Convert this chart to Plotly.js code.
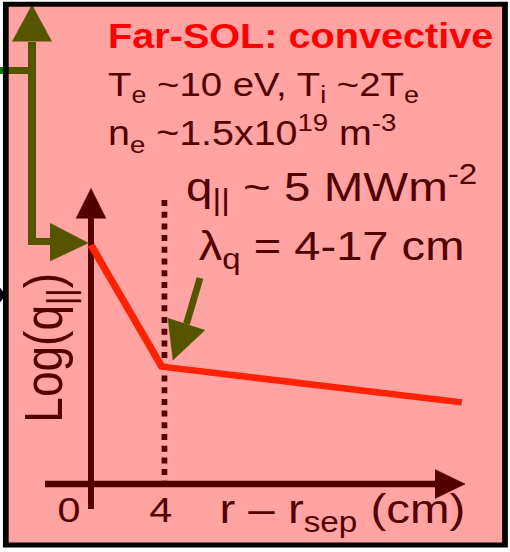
<!DOCTYPE html>
<html>
<head>
<meta charset="utf-8">
<script src="https://cdn.plot.ly/plotly-3.0.1.min.js"></script>
<style>
  html, body { margin: 0; padding: 0; background: #ffffff; overflow: hidden; }
  #wrap { width: 510px; height: 552px; overflow: hidden; }
  #chart { width: 444px; height: 552px; transform: scaleX(1.148649); transform-origin: 0 0; }
</style>
</head>
<body>
<div id="wrap"><div id="chart"></div></div>
<script>
// ---- Data (schematic units: x = r - r_sep in cm, y = Log(q||) arbitrary units) ----
const profileX = [0, 3.93, 20.6];
const profileY = [11.95, 5.87, 4.08];

const tickValues = [0, 4];
const tickLabels = ['0', '4'];

// axis arrows
const yAxisX = [0, 0];
const yAxisY = [-1.25, 13.3];
const yHeadX = [-0.833, 0, 0.833];
const yHeadY = [13.28, 14.78, 13.28];
const xAxisX = [-2.556, 19.2];
const xAxisY = [0, 0];
const xHeadX = [19.11, 20.78, 19.11];
const xHeadY = [0.73, 0, -0.73];

// 4 cm dotted marker
const markX = [4.08, 4.08];
const markY = [14.2, 0];

// olive pointer arrows
const pointer1X = [-3.278, -3.278, -2.222];
const pointer1Y = [22.1, 12.125, 12.125];
const pointer1UpHeadX = [-4.372, -3.278, -2.183];
const pointer1UpHeadY = [22.12, 23.95, 22.12];
const pointer1RightHeadX = [-2.278, -0.156, -2.278];
const pointer1RightHeadY = [13.04, 12.05, 11.15];
const stubX = [-4.78, -3.111];
const stubY = [20.675, 20.675];
const greenStubX = [-5.056, -4.78];
const greenStubY = [20.675, 20.675];
const blackTipX = [-5.056, -4.75, -5.056];
const blackTipY = [9.8, 9.45, 9.1];

const pointer2X = [6.056, 5.306];
const pointer2Y = [10.3, 8.0];
const pointer2HeadX = [4.278, 4.556, 6.333];
const pointer2HeadY = [8.3, 6.2, 7.7];

// ---- Styles ----
const MAROON = '#520000';
const OLIVE = '#555500';
const RED = '#ff2200';
const PINK = '#ffa3a3';
const FONT = 'Liberation Sans, Arial, sans-serif';

function line(x, y, color, width, dash) {
  return { x: x, y: y, type: 'scatter', mode: 'lines', hoverinfo: 'skip',
           line: { color: color, width: width, dash: dash || 'solid' } };
}
function tri(x, y, color) {
  return { x: x, y: y, type: 'scatter', mode: 'lines', fill: 'toself', fillcolor: color,
           hoverinfo: 'skip', line: { color: color, width: 0.5 } };
}

const traces = [
  line(markX, markY, MAROON, 5, '6px,5.7px'),
  line(yAxisX, yAxisY, MAROON, 5.2),
  tri(yHeadX, yHeadY, MAROON),
  line(xAxisX, xAxisY, MAROON, 6.5),
  tri(xHeadX, xHeadY, MAROON),
  line(profileX, profileY, RED, 6.5),
  line(greenStubX, greenStubY, '#008000', 7),
  line(stubX, stubY, OLIVE, 7),
  line(pointer1X, pointer1Y, OLIVE, 7),
  tri(pointer1UpHeadX, pointer1UpHeadY, OLIVE),
  tri(pointer1RightHeadX, pointer1RightHeadY, OLIVE),
  line(pointer2X, pointer2Y, OLIVE, 6),
  tri(pointer2HeadX, pointer2HeadY, OLIVE),
  tri(blackTipX, blackTipY, '#000000')
];

// pixel helpers for layout (reference image pixels -> paper fraction)
const PX = v => v / 510;
const PY = v => 1 - v / 552;

function txt(text, x, y, size, color, xanchor, extra) {
  return Object.assign({ text: text, x: PX(x), y: PY(y), xref: 'paper', yref: 'paper',
    xanchor: xanchor || 'left', yanchor: 'middle', showarrow: false,
    borderpad: 0, borderwidth: 0,
    font: { family: FONT, size: size, color: color } }, extra || {});
}

const annotations = [
  txt('<b>Far-SOL: convective</b>', 108, 36.0, 34.5, '#ff0000'),
  txt('T<sub>e</sub> ~10 eV, T<sub>i</sub> ~2T<sub>e</sub>', 108, 87.0, 33.4, MAROON),
  txt('n<sub>e</sub> ~1.5x10<sup>19</sup> m<sup>-3</sup>', 108, 133.6, 34.3, MAROON),
  txt('q<sub>||</sub> ~ 5 MWm<sup>-2</sup>', 332.5, 187.3, 41.4, MAROON, 'center'),
  txt('λ<sub>q</sub> = 4-17 cm', 331, 248.8, 41, MAROON, 'center'),
  txt('Log(q<sub>||</sub>)', 46.7, 348, 46, MAROON, 'center', { textangle: -90 }),
  txt(tickLabels[0], 69, 509.6, 36, MAROON, 'center'),
  txt(tickLabels[1], 161, 509.6, 36, MAROON, 'center'),
  txt('r – r<sub>sep</sub> (cm)', 342.5, 512.0, 41.3, MAROON, 'center')
];

const layout = {
  width: 444, height: 552,
  margin: { l: 0, r: 0, t: 0, b: 0 },
  paper_bgcolor: '#ffffff', plot_bgcolor: 'rgba(0,0,0,0)',
  showlegend: false,
  xaxis: { range: [-5.0556, 23.2778], visible: false, fixedrange: true, tickvals: tickValues },
  yaxis: { range: [-3.4, 24.2], visible: false, fixedrange: true },
  shapes: [
    { type: 'rect', xref: 'paper', yref: 'paper', x0: PX(5.8), x1: PX(505), y0: PY(545), y1: PY(4.2),
      fillcolor: PINK, line: { width: 0 }, layer: 'below' },
    { type: 'rect', xref: 'paper', yref: 'paper', x0: PX(5.8), x1: PX(505), y0: PY(545), y1: PY(4.2),
      fillcolor: 'rgba(0,0,0,0)', line: { color: '#000000', width: 5 }, layer: 'above' }
  ],
  annotations: annotations
};

Plotly.newPlot('chart', traces, layout, { staticPlot: true, displayModeBar: false });
</script>
</body>
</html>
